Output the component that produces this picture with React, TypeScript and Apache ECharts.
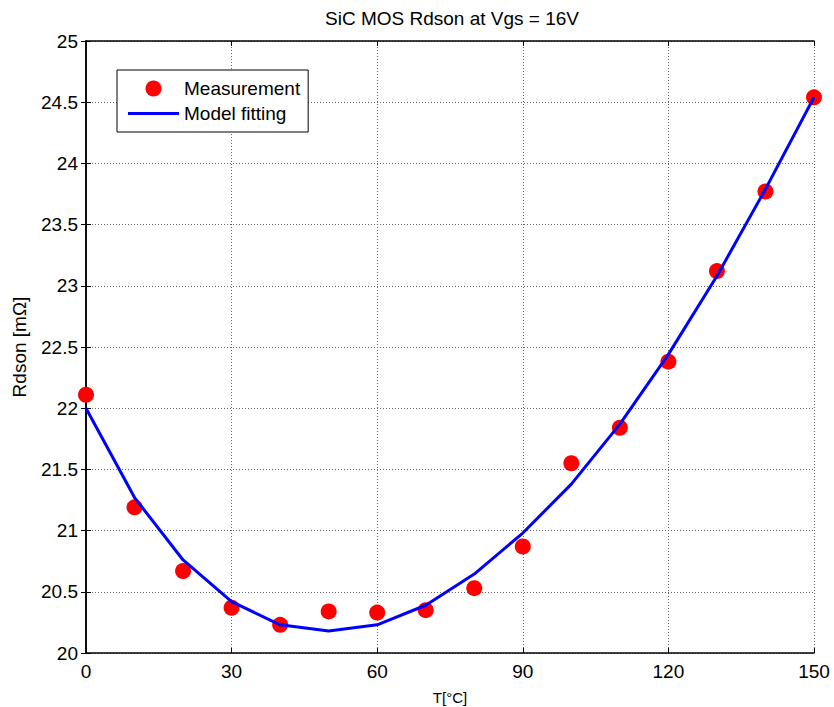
import React, { useEffect, useRef } from "react";
import * as echarts from "echarts";

const temperatures = [0, 10, 20, 30, 40, 50, 60, 70, 80, 90, 100, 110, 120, 130, 140, 150];
const measurement = [22.11, 21.19, 20.67, 20.37, 20.23, 20.34, 20.33, 20.35, 20.53, 20.87, 21.55, 21.84, 22.38, 23.12, 23.77, 24.54];
const modelFitting = [22.0, 21.27, 20.76, 20.42, 20.23, 20.18, 20.23, 20.39, 20.645, 20.98, 21.38, 21.87, 22.44, 23.08, 23.79, 24.54];
const seriesNames = ["Measurement", "Model fitting"];

const FONT = "Liberation Sans, Arial, sans-serif";

export default function App() {
  const ref = useRef<HTMLDivElement>(null);
  useEffect(() => {
    if (!ref.current) return;
    const chart = echarts.init(ref.current, null, { renderer: "svg" });
    const gridLine = { show: true, lineStyle: { color: "#666", type: [1, 2] as any, width: 1 } };
    const axisLineStyle = { show: true, lineStyle: { color: "#000", width: 1.5 } };
    const tick = { show: true, inside: true, length: 5, lineStyle: { color: "#000" } };
    chart.setOption({
      animation: false,
      backgroundColor: "#fff",
      title: {
        text: "SiC MOS Rdson at Vgs = 16V",
        left: 447,
        textAlign: "center",
        top: 4,
        textStyle: { fontFamily: FONT, fontSize: 19, fontWeight: "normal", color: "#000" },
      },
      legend: {
        data: [
          { name: seriesNames[0], icon: "circle" },
          { name: seriesNames[1], icon: "path://M0,0 L51,0 L51,3 L0,3 Z" },
        ],
        orient: "vertical",
        left: 117,
        top: 70,
        padding: [9, 8, 9, 11],
        itemWidth: 51,
        itemHeight: 16,
        itemGap: 6,
        borderColor: "#000",
        borderWidth: 1,
        backgroundColor: "#fff",
        textStyle: { fontFamily: FONT, fontSize: 19, color: "#000" },
      },
      grid: { left: 86, top: 41, right: 20, bottom: 54, containLabel: false, outerBoundsMode: "none" },
      xAxis: [
        {
          type: "value",
          min: 0,
          max: 150,
          interval: 30,
          name: "T[°C]",
          nameLocation: "middle",
          nameGap: 37,
          nameTextStyle: { fontFamily: FONT, fontSize: 15, color: "#000" },
          axisLine: axisLineStyle,
          axisTick: tick,
          axisLabel: { fontFamily: FONT, fontSize: 19, color: "#000", margin: 9 },
          splitLine: gridLine,
        },
        {
          type: "value",
          position: "top",
          min: 0,
          max: 150,
          interval: 30,
          axisLine: axisLineStyle,
          axisTick: tick,
          axisLabel: { show: false },
          splitLine: { show: false },
        },
      ],
      yAxis: [
        {
          type: "value",
          min: 20,
          max: 25,
          interval: 0.5,
          name: "Rdson [mΩ]",
          nameLocation: "middle",
          nameGap: 57,
          nameTextStyle: { fontFamily: FONT, fontSize: 19, color: "#000" },
          axisLine: axisLineStyle,
          axisTick: tick,
          axisLabel: { fontFamily: FONT, fontSize: 19, color: "#000", margin: 8 },
          splitLine: gridLine,
        },
        {
          type: "value",
          position: "right",
          min: 20,
          max: 25,
          interval: 0.5,
          axisLine: axisLineStyle,
          axisTick: tick,
          axisLabel: { show: false },
          splitLine: { show: false },
        },
      ],
      series: [
        {
          name: seriesNames[0],
          type: "scatter",
          data: temperatures.map((t, i) => [t, measurement[i]]),
          symbol: "circle",
          symbolSize: 16,
          itemStyle: { color: "#ff0000", opacity: 1 },
          z: 2,
        },
        {
          name: seriesNames[1],
          type: "line",
          data: temperatures.map((t, i) => [t, modelFitting[i]]),
          showSymbol: false,
          symbol: "none",
          lineStyle: { color: "#0000ff", width: 3 },
          itemStyle: { color: "#0000ff" },
          z: 3,
        },
      ],
    });
    return () => chart.dispose();
  }, []);
  return (
    <div
      ref={ref}
      style={{ width: 834, height: 707, position: "fixed", left: 0, top: 0, background: "#fff" }}
    />
  );
}
